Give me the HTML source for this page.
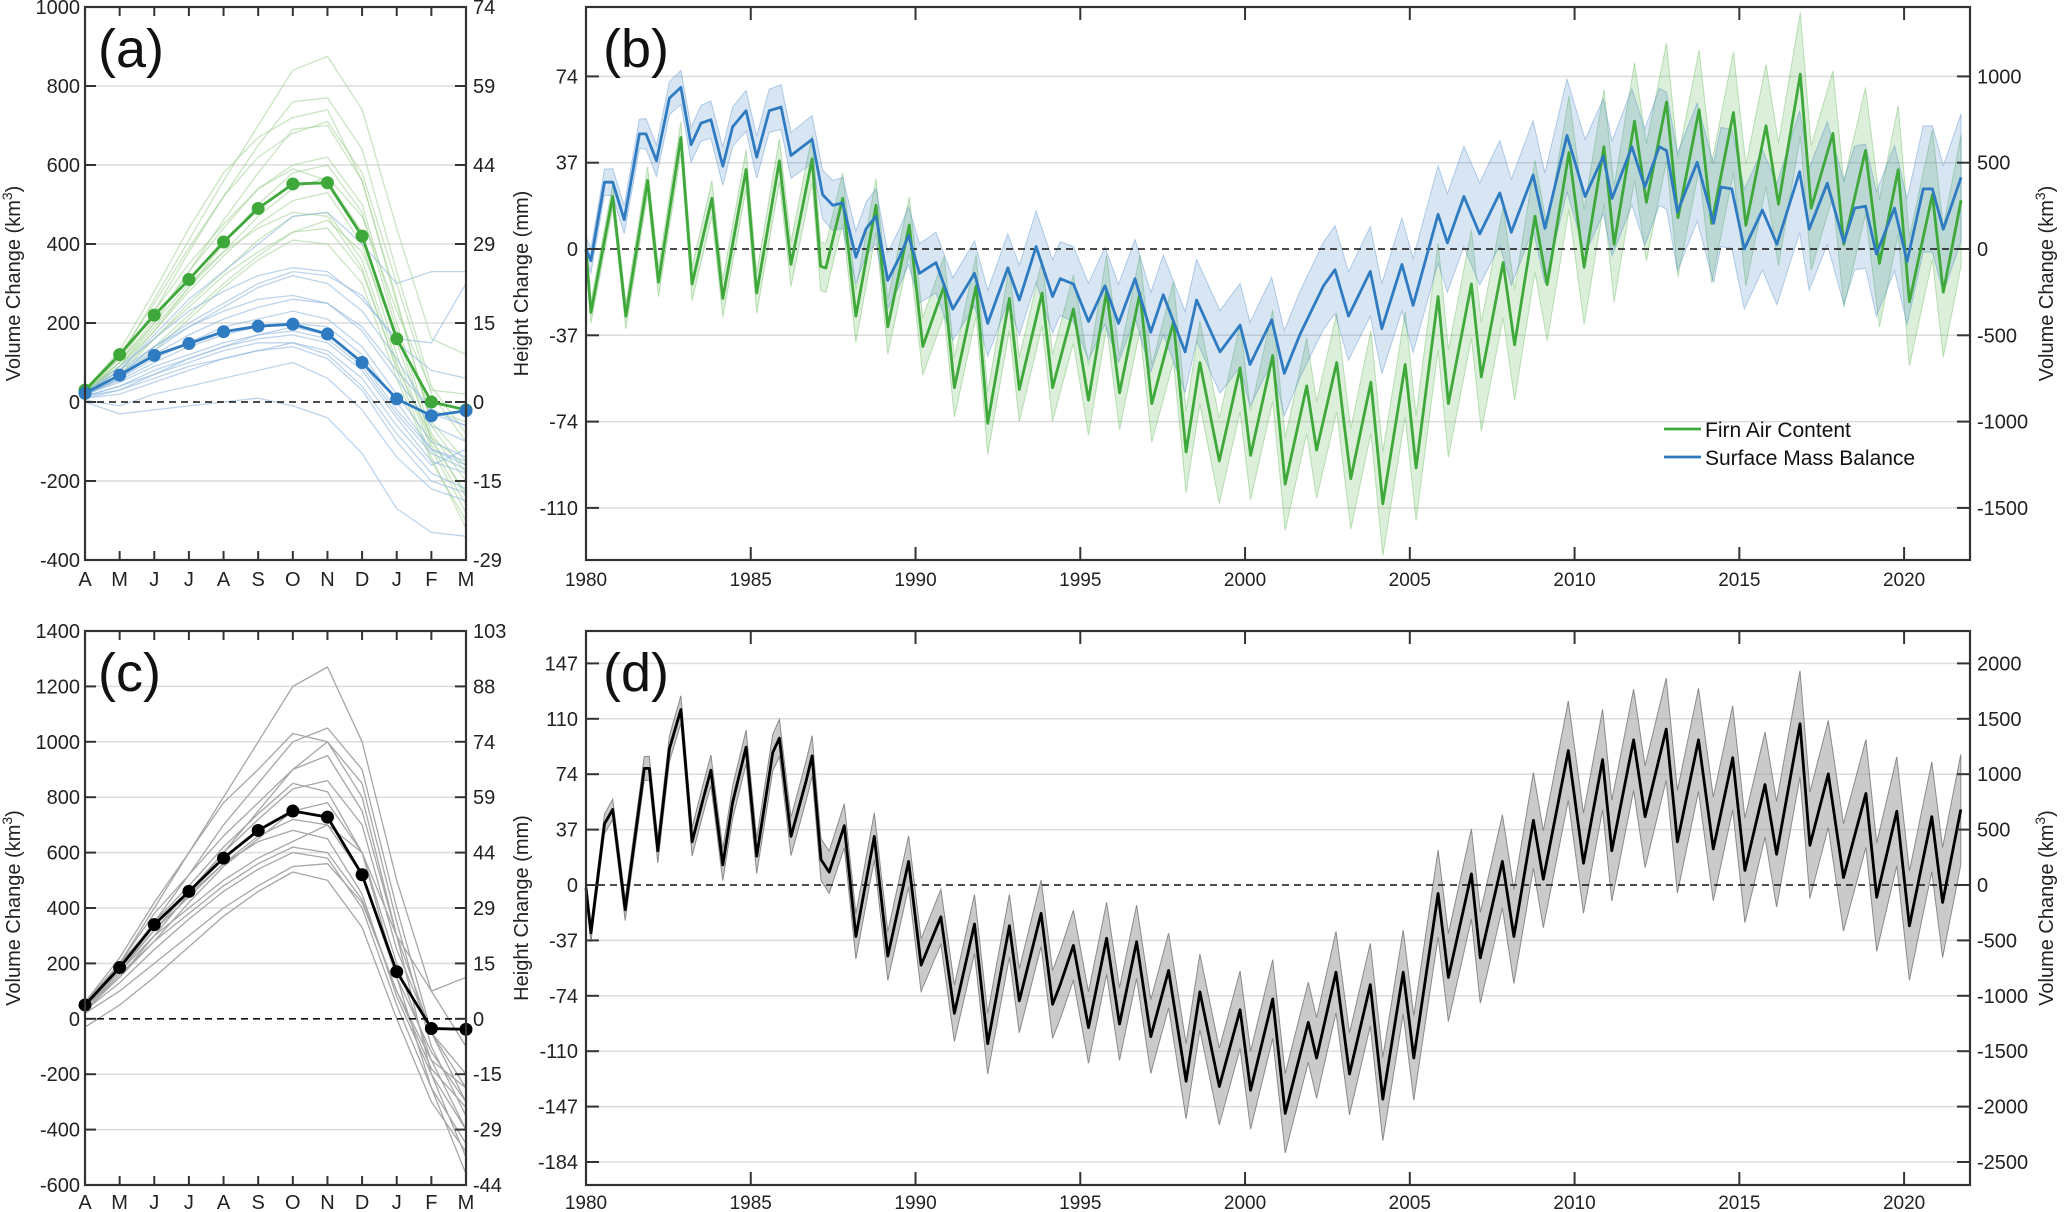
<!DOCTYPE html>
<html><head><meta charset="utf-8"><style>
html,body{margin:0;padding:0;background:#fff;}
svg{display:block;font-family:"Liberation Sans",Arial,sans-serif;}
</style></head><body>
<svg id="fig" xmlns="http://www.w3.org/2000/svg" width="2067" height="1212" viewBox="0 0 2067 1212"></svg>
<script>
// ---------- Panel (a) data (km3) ----------
const months = ['A','M','J','J','A','S','O','N','D','J','F','M'];
const facMean = [30,120,220,310,405,490,552,555,420,160,0,-20];
const smbMean = [22,68,118,148,178,192,197,172,100,8,-35,-22];
const facYears = [
[30,110,260,410,560,700,840,875,740,440,160,120],
[25,100,230,380,520,650,760,770,640,330,40,-80],
[30,130,280,440,580,670,720,740,560,250,-50,-150],
[20,90,200,330,460,580,690,700,560,260,-60,-180],
[30,120,250,390,520,620,680,710,580,300,20,-100],
[25,100,210,330,440,540,600,620,500,200,-80,-200],
[20,80,180,290,400,500,580,600,480,180,-100,-230],
[30,110,230,350,450,540,590,560,430,150,-90,-240],
[25,90,180,280,370,450,510,530,400,120,-110,-260],
[20,70,160,250,330,410,470,480,360,100,-120,-280],
[30,100,200,300,380,440,480,470,340,80,-140,-320],
[20,60,130,210,290,360,410,400,300,60,-150,-300],
[25,80,160,240,320,380,430,460,380,170,-20,-50],
[30,90,190,290,380,470,540,570,470,230,30,20],
[20,70,140,220,300,370,430,440,330,90,-90,-160]
];
const smbYears = [
[20,80,170,260,330,400,470,480,400,300,330,330],
[25,90,160,230,280,320,340,330,260,160,150,300],
[20,70,140,200,250,300,330,320,270,150,80,60],
[15,60,120,170,210,240,260,250,190,80,-20,-60],
[25,80,140,190,230,260,270,250,180,60,-60,-100],
[20,60,110,150,190,210,230,210,140,20,-100,-140],
[20,55,100,140,170,190,200,190,120,0,-120,-160],
[15,40,80,110,140,160,170,150,80,-40,-150,-180],
[20,50,90,120,150,170,180,160,90,-30,-130,-170],
[10,20,50,80,110,130,150,120,40,-80,-180,-220],
[15,30,60,90,110,130,140,110,30,-100,-200,-230],
[5,-10,20,40,60,80,100,60,-20,-140,-220,-250],
[0,-30,-20,-10,0,10,-10,-40,-130,-270,-330,-340],
[15,40,70,100,130,150,150,130,60,-60,-160,-120],
[20,70,130,190,240,290,320,300,230,110,-30,-60],
[10,30,70,110,140,170,190,170,100,-20,-120,-150]
];
// ---------- Panel (c) data ----------
const totMean = [50,185,340,460,580,680,750,728,520,170,-35,-38];
const totYears = [
[50,200,400,600,800,1000,1200,1270,1000,500,100,-100],
[40,180,350,520,700,850,1000,1050,900,400,-50,-300],
[60,220,420,600,780,900,1030,1000,800,300,-200,-500],
[40,150,300,450,600,750,900,1000,850,350,-100,-350],
[50,190,350,480,620,740,850,820,600,200,-150,-400],
[30,150,280,420,550,650,750,780,600,150,-250,-560],
[50,180,320,440,560,660,720,700,520,150,-120,-300],
[60,200,340,450,560,640,680,650,450,80,-200,-400],
[40,160,280,380,480,560,620,600,430,100,-150,-250],
[50,170,300,400,500,580,640,700,600,300,100,150],
[30,130,250,360,460,540,600,580,400,50,-250,-450],
[20,100,200,300,400,480,550,560,420,100,-180,-320],
[-30,50,150,260,370,460,530,500,330,0,-300,-480],
[50,200,380,520,660,780,900,950,750,300,-50,-200],
[40,170,320,460,600,720,830,860,700,250,-50,-250]
];
// ---------- Panel (b) data: firn air content (km3) ----------
const facT = [1980.0,1980.15,1980.81,1981.21,1981.87,1982.2,1982.88,1983.22,1983.82,1984.15,1984.86,1985.18,1985.87,1986.22,1986.86,1987.12,1987.28,1987.79,1988.19,1988.8,1989.16,1989.81,1990.22,1990.87,1991.18,1991.84,1992.19,1992.85,1993.15,1993.84,1994.16,1994.79,1995.25,1995.8,1996.19,1996.81,1997.17,1997.83,1998.21,1998.63,1999.22,1999.85,2000.17,2000.84,2001.22,2001.87,2002.17,2002.78,2003.21,2003.82,2004.18,2004.86,2005.19,2005.86,2006.17,2006.87,2007.17,2007.83,2008.18,2008.8,2009.17,2009.83,2010.29,2010.89,2011.2,2011.82,2012.18,2012.79,2013.14,2013.78,2014.16,2014.82,2015.2,2015.81,2016.19,2016.85,2017.18,2017.84,2018.17,2018.83,2019.25,2019.82,2020.16,2020.86,2021.19,2021.73];
const facV = [0,-368,304,-389,397,-192,646,-203,294,-286,460,-255,511,-89,522,-100,-110,294,-389,253,-451,139,-565,-213,-803,-213,-1010,-286,-814,-255,-803,-348,-876,-244,-834,-255,-896,-420,-1176,-658,-1228,-689,-1196,-617,-1362,-793,-1165,-658,-1331,-772,-1476,-669,-1269,-275,-896,-203,-741,-79,-555,190,-206,559,-106,592,27,740,270,851,182,807,149,791,137,714,259,1013,237,670,27,570,-84,459,-306,315,-250,282];
// surface mass balance (km3)
const smbT = [1980.0,1980.15,1980.56,1980.81,1981.16,1981.62,1981.82,1982.14,1982.53,1982.88,1983.19,1983.49,1983.79,1984.15,1984.45,1984.86,1985.18,1985.56,1985.92,1986.22,1986.58,1986.86,1987.18,1987.49,1987.79,1988.19,1988.5,1988.8,1989.16,1989.51,1989.79,1990.12,1990.62,1991.13,1991.79,1992.19,1992.8,1993.15,1993.66,1994.16,1994.39,1994.79,1995.25,1995.75,1996.16,1996.66,1997.14,1997.52,1998.18,1998.53,1999.24,1999.85,2000.15,2000.81,2001.19,2001.67,2002.38,2002.73,2003.14,2003.8,2004.15,2004.76,2005.1,2005.86,2006.14,2006.64,2007.12,2007.73,2008.08,2008.74,2009.1,2009.77,2010.32,2010.87,2011.14,2011.74,2012.13,2012.57,2012.79,2013.12,2013.72,2014.22,2014.44,2014.77,2015.15,2015.7,2016.14,2016.83,2017.12,2017.67,2018.17,2018.5,2018.83,2019.16,2019.71,2020.09,2020.58,2020.86,2021.19,2021.73];
const smbV = [0,-68,387,387,170,667,667,511,874,936,604,729,749,480,708,801,532,801,822,542,594,635,315,253,267,-48,118,190,-182,-48,77,-141,-79,-348,-141,-431,-110,-296,14,-275,-172,-203,-420,-213,-431,-172,-482,-265,-596,-296,-596,-441,-669,-410,-720,-493,-213,-120,-389,-130,-462,-89,-327,201,35,304,87,325,97,428,120,658,304,537,293,592,359,592,570,215,503,149,359,348,0,226,27,448,115,381,38,237,248,-29,237,-73,348,348,115,415];
// band half-widths (km3) at knot years
const uncKnotT = [1980,1988,1995,2004,2010,2022];
const facUnc = [60,150,200,300,330,380];
const smbUnc = [70,150,220,260,330,370];
// ---------- Panel (d) data: total (km3) ----------
const totT = [1980.0,1980.15,1980.56,1980.81,1981.19,1981.77,1981.92,1982.18,1982.53,1982.88,1983.22,1983.54,1983.79,1984.15,1984.45,1984.86,1985.18,1985.67,1985.87,1986.22,1986.68,1986.86,1987.13,1987.38,1987.84,1988.19,1988.75,1989.16,1989.79,1990.17,1990.77,1991.18,1991.79,1992.19,1992.85,1993.15,1993.81,1994.16,1994.39,1994.79,1995.25,1995.8,1996.19,1996.71,1997.14,1997.68,1998.21,1998.63,1999.22,1999.85,2000.17,2000.84,2001.22,2001.92,2002.17,2002.76,2003.17,2003.8,2004.18,2004.8,2005.12,2005.86,2006.17,2006.87,2007.14,2007.81,2008.16,2008.75,2009.05,2009.81,2010.27,2010.85,2011.13,2011.79,2012.14,2012.78,2013.12,2013.76,2014.21,2014.8,2015.17,2015.78,2016.13,2016.84,2017.14,2017.7,2018.16,2018.84,2019.17,2019.78,2020.16,2020.84,2021.17,2021.72];
const totV = [-29,-432,552,681,-223,1052,1052,310,1229,1584,390,761,1036,181,745,1245,261,1197,1326,439,939,1165,229,116,535,-465,439,-642,213,-723,-287,-1158,-352,-1432,-368,-1045,-255,-1077,-900,-545,-1287,-481,-1255,-513,-1368,-771,-1771,-965,-1819,-1126,-1852,-1029,-2061,-1239,-1561,-787,-1706,-900,-1932,-787,-1561,-77,-835,100,-658,213,-465,584,52,1213,197,1132,310,1310,616,1406,390,1310,326,1148,132,906,277,1455,358,1003,68,826,-110,665,-368,616,-158,681];
const totUncT = [1980,1988,1995,2005,2010,2022];
const totUnc = [80,200,320,380,450,500];
// ---------- tick labels ----------
const aLeftTicks = [-400,-200,0,200,400,600,800,1000];
const aRightLabels = ['-29','-15','0','15','29','44','59','74'];
const cLeftTicks = [-600,-400,-200,0,200,400,600,800,1000,1200,1400];
const cRightLabels = ['-44','-29','-15','0','15','29','44','59','74','88','103'];
const bRightTicks = [-1500,-1000,-500,0,500,1000];
const bLeftLabels = ['-110','-74','-37','0','37','74'];
const dRightTicks = [-2500,-2000,-1500,-1000,-500,0,500,1000,1500,2000];
const dLeftLabels = ['-184','-147','-110','-74','-37','0','37','74','110','147'];
const yearTicks = [1980,1985,1990,1995,2000,2005,2010,2015,2020];

// ---------- helpers ----------
const NS='http://www.w3.org/2000/svg';
const svg=document.getElementById('fig');
function mk(tag,attrs,parent){const e=document.createElementNS(NS,tag);for(const k in attrs)e.setAttribute(k,attrs[k]);(parent||svg).appendChild(e);return e;}
function interp(ts,vs,t){if(t<=ts[0])return vs[0];for(let i=1;i<ts.length;i++){if(t<=ts[i]){const f=(t-ts[i-1])/(ts[i]-ts[i-1]);return vs[i-1]+f*(vs[i]-vs[i-1]);}}return vs[vs.length-1];}
const FRAME='#333';

const PA={x0:85,x1:466,y0:7,y1:560,vmin:-400,vmax:1000,lab:26};
const PC={x0:85,x1:466,y0:631,y1:1185,vmin:-600,vmax:1400,lab:24};
const PB={x0:586,x1:1970,y0:7,y1:560,zero:249,pp:86.3/500,lab:26};
const PD={x0:586,x1:1970,y0:631,y1:1185,zero:885,pp:55.4/500,lab:24};
function mx(P,i){return P.x0+i*(P.x1-P.x0)/11;}
function my(P,v){return P.y1-(v-P.vmin)*(P.y1-P.y0)/(P.vmax-P.vmin);}
function tx(P,t){return P.x0+(t-1980)*(P.x1-P.x0)/42;}
function ty(P,v){return P.zero-v*P.pp;}

function text(x,y,s,anchor,size,name){
  const t=mk('text',{x:x,y:y,'text-anchor':anchor,'font-size':size,fill:'#222'});
  t.textContent=s;
  
  
  return t;
}
function vtitle(x,cy,main,sup,name){
  const t=mk('text',{x:0,y:0,'text-anchor':'middle','font-size':20,fill:'#222',transform:'translate('+x+','+cy+') rotate(-90)'});
  
  
  t.appendChild(document.createTextNode(main));
  if(sup){const s=mk('tspan',{dy:-8,'font-size':14},t);s.textContent='3';
    
    
    const c=mk('tspan',{dy:8},t);c.textContent=')';
    
    }
}
function grid(x0,x1,y,name){
  const l=mk('line',{x1:x0,x2:x1,y1:y,y2:y,stroke:'#dcdcdc','stroke-width':1.5});
  
  
}
function zeroLine(x0,x1,y,name){
  const l=mk('line',{x1:x0,x2:x1,y1:y,y2:y,stroke:'#111','stroke-width':1.6,'stroke-dasharray':'7,5'});
  
  
}
function frame(P,name){
  const r=mk('rect',{x:P.x0,y:P.y0,width:P.x1-P.x0,height:P.y1-P.y0,fill:'none',stroke:FRAME,'stroke-width':2.2});
  
  
}
function tick(x1,y1,x2,y2,name){
  const l=mk('line',{x1:x1,y1:y1,x2:x2,y2:y2,stroke:FRAME,'stroke-width':2});
  
  
}
function poly(pts,stroke,w,name,op){
  const p=mk('polyline',{points:pts.map(q=>q[0].toFixed(1)+','+q[1].toFixed(1)).join(' '),fill:'none',stroke:stroke,'stroke-width':w,'stroke-linejoin':'round','stroke-opacity':op==null?1:op});
  
  
  return p;
}
function dot(x,y,r,fill,name){
  const c=mk('circle',{cx:x,cy:y,r:r,fill:fill});
  
  
}

function monthPanel(P,leftTicks,rightLabels,thinSets,means,label,letter){
  leftTicks.forEach(v=>{ if(v!==0&&v!==P.vmin&&v!==P.vmax) grid(P.x0,P.x1,my(P,v),'gridline-'+letter); });
  thinSets.forEach(set=>{
    set.data.forEach((row,k)=>{ poly(row.map((v,i)=>[mx(P,i),my(P,v)]),set.color,1.3,set.name+'-'+k,set.op); });
  });
  zeroLine(P.x0,P.x1,my(P,0),'zero-line-'+letter);
  means.forEach(m=>{
    poly(m.data.map((v,i)=>[mx(P,i),my(P,v)]),m.color,2.8,m.name);
    m.data.forEach((v,i)=>dot(mx(P,i),my(P,v),6.5,m.color,m.name+'-marker'));
  });
  frame(P,'panel-'+letter+'-frame');
  leftTicks.forEach((v,k)=>{
    const y=my(P,v);
    tick(P.x0,y,P.x0+11,y,'left-tick-'+letter);
    tick(P.x1,y,P.x1-11,y,'right-tick-'+letter);
    text(P.x0-5,y+7,String(v),'end',20,'left-tick-label-'+letter);
    text(P.x1+7,y+7,rightLabels[k],'start',20,'right-tick-label-'+letter);
  });
  months.forEach((m,i)=>{
    const x=mx(P,i);
    tick(x,P.y0,x,P.y0+9,'top-tick-'+letter);
    tick(x,P.y1,x,P.y1-9,'bottom-tick-'+letter);
    text(x,P.y1+P.lab,m,'middle',20,'month-label-'+letter);
  });
  const L=text(P.x0+13,P.y0+60,label,'start',54,'panel-label-'+letter);
  L.setAttribute('fill','#111');
  vtitle(20,(P.y0+P.y1)/2,'Volume Change (km',true,'y-axis-title-'+letter);
}
monthPanel(PA,aLeftTicks,aRightLabels,
  [{data:facYears,color:'#9fd08f',name:'fac-year-line',op:0.55},{data:smbYears,color:'#8fb8e0',name:'smb-year-line',op:0.6}],
  [{data:facMean,color:'#3ea83a',name:'fac-mean-line'},{data:smbMean,color:'#2f7bc1',name:'smb-mean-line'}],'(a)','a');
monthPanel(PC,cLeftTicks,cRightLabels,
  [{data:totYears,color:'#a6a6a6',name:'total-year-line',op:1}],
  [{data:totMean,color:'#000',name:'total-mean-line'}],'(c)','c');

function bandPath(P,ts,vs,kT,kU){
  const up=[],lo=[];
  for(let i=0;i<ts.length;i++){const u=interp(kT,kU,ts[i]);up.push([tx(P,ts[i]),ty(P,vs[i]+u)]);lo.push([tx(P,ts[i]),ty(P,vs[i]-u)]);}
  const pts=up.concat(lo.reverse());
  return 'M'+pts.map(q=>q[0].toFixed(1)+','+q[1].toFixed(1)).join('L')+'Z';
}
function tsPanel(P,rightTicks,leftLabels,series,label,letter){
  rightTicks.forEach(v=>{ if(v!==0) grid(P.x0,P.x1,ty(P,v),'gridline-'+letter); });
  series.forEach(s=>{
    const b=mk('path',{d:bandPath(P,s.t,s.v,s.kT,s.kU),fill:s.band,stroke:s.edge,'stroke-width':1});
    
    
  });
  zeroLine(P.x0,P.x1,ty(P,0),'zero-line-'+letter);
  series.forEach(s=>{ poly(s.t.map((t,i)=>[tx(P,t),ty(P,s.v[i])]),s.color,2.8,s.name+'-line'); });
  frame(P,'panel-'+letter+'-frame');
  rightTicks.forEach((v,k)=>{
    const y=ty(P,v);
    tick(P.x0,y,P.x0+13,y,'left-tick-'+letter);
    tick(P.x1,y,P.x1-13,y,'right-tick-'+letter);
    text(P.x0-8,y+7,leftLabels[k],'end',20,'left-tick-label-'+letter);
    text(P.x1+7,y+7,String(v),'start',20,'right-tick-label-'+letter);
  });
  yearTicks.forEach(yr=>{
    const x=tx(P,yr);
    if(yr>1980){tick(x,P.y0,x,P.y0+13,'top-tick-'+letter);tick(x,P.y1,x,P.y1-13,'bottom-tick-'+letter);}
    text(x,P.y1+P.lab,String(yr),'middle',19,'year-label-'+letter);
  });
  const L=text(P.x0+17,P.y0+60,label,'start',54,'panel-label-'+letter);
  L.setAttribute('fill','#111');
  vtitle(528,(P.y0+P.y1)/2,'Height Change (mm)',false,'left-axis-title-'+letter);
  vtitle(2053,(P.y0+P.y1)/2,'Volume Change (km',true,'right-axis-title-'+letter);
}
tsPanel(PB,bRightTicks,bLeftLabels,[
  {t:facT,v:facV,kT:uncKnotT,kU:facUnc,color:'#3ea83a',band:'rgba(80,175,70,0.2)',edge:'rgba(80,175,70,0.35)',name:'fac'},
  {t:smbT,v:smbV,kT:uncKnotT,kU:smbUnc,color:'#2f7bc1',band:'rgba(60,125,195,0.2)',edge:'rgba(60,125,195,0.35)',name:'smb'}
],'(b)','b');
tsPanel(PD,dRightTicks,dLeftLabels,[
  {t:totT,v:totV,kT:totUncT,kU:totUnc,color:'#000',band:'rgba(150,150,150,0.5)',edge:'#8a8a8a',name:'total'}
],'(d)','d');

const lg=mk('g',{});


const l1=mk('line',{x1:1664,x2:1701,y1:429,y2:429,stroke:'#3ea83a','stroke-width':2.8},lg);


const t1=mk('text',{x:1705,y:437,'font-size':21,fill:'#111'},lg);t1.textContent='Firn Air Content';


const l2=mk('line',{x1:1664,x2:1701,y1:457,y2:457,stroke:'#2f7bc1','stroke-width':2.8},lg);


const t2=mk('text',{x:1705,y:465,'font-size':21,fill:'#111'},lg);t2.textContent='Surface Mass Balance';


</script>
</body></html>
